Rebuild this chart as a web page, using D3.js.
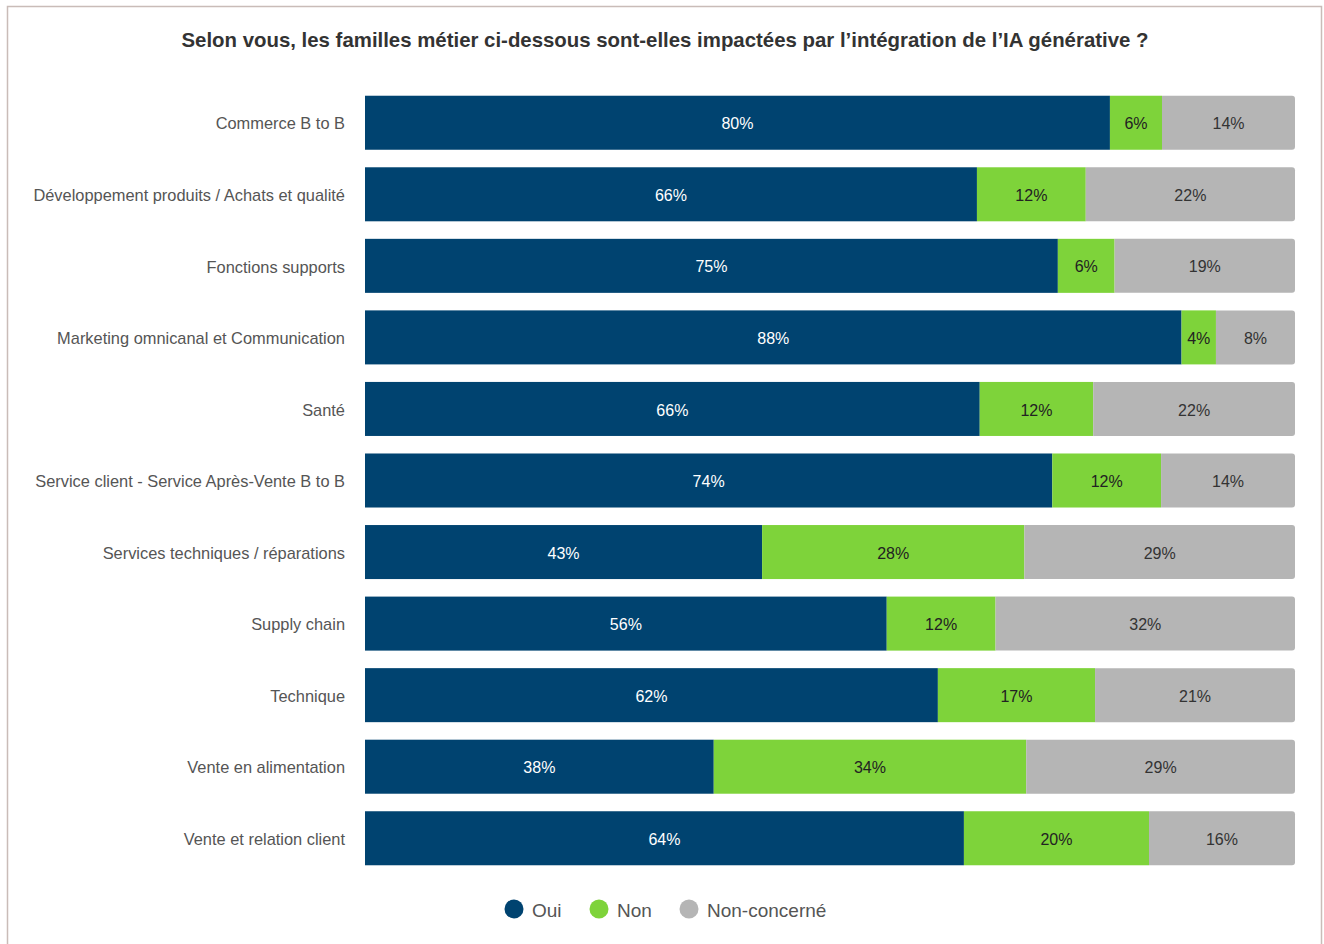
<!DOCTYPE html>
<html>
<head>
<meta charset="utf-8">
<script src="https://cdn.jsdelivr.net/npm/d3@7"></script>
<style>
  body { margin: 0; background: #fff; font-family: "Liberation Sans", Arial, sans-serif; }
</style>
</head>
<body>
<div class="chart"></div>
<script>
const categories = [
  "Commerce B to B",
  "Développement produits / Achats et qualité",
  "Fonctions supports",
  "Marketing omnicanal et Communication",
  "Santé",
  "Service client - Service Après-Vente B to B",
  "Services techniques / réparations",
  "Supply chain",
  "Technique",
  "Vente en alimentation",
  "Vente et relation client"
];
const series = ["Oui", "Non", "Non-concerné"];
const oui = [80.1, 65.8, 74.5, 87.8, 66.1, 73.9, 42.7, 56.1, 61.6, 37.5, 64.4];
const non = [5.6, 11.7, 6.1, 3.7, 12.2, 11.7, 28.2, 11.7, 16.9, 33.6, 19.9];
const nonConcerne = [14.3, 22.5, 19.4, 8.5, 21.7, 14.4, 29.1, 32.2, 21.5, 28.9, 15.7];
const ouiLabels = [80, 66, 75, 88, 66, 74, 43, 56, 62, 38, 64];
const nonLabels = [6, 12, 6, 4, 12, 12, 28, 12, 17, 34, 20];
const ncLabels = [14, 22, 19, 8, 22, 14, 29, 32, 21, 29, 16];

const colors = ["#004370", "#7ed33a", "#b5b5b5"];
const textColors = ["#ffffff", "#222222", "#333333"];

const width = 1324, height = 944;
const margin = { left: 365, right: 29, top: 87, bottom: 87 };

const svg = d3.select(".chart").append("svg")
  .attr("width", width)
  .attr("height", height);

// frame
svg.append("path")
  .attr("d", "M7.5,960 V6.5 H1321.5 V960")
  .attr("fill", "none")
  .attr("stroke", "#c9bcb8")
  .attr("stroke-width", 1.5);

svg.append("text")
  .attr("x", 665)
  .attr("y", 47)
  .attr("text-anchor", "middle")
  .attr("font-size", "20.4px")
  .attr("font-weight", "bold")
  .attr("fill", "#333")
  .text("Selon vous, les familles métier ci-dessous sont-elles impactées par l’intégration de l’IA générative ?");

const x = d3.scaleLinear().domain([0, 100]).range([margin.left, width - margin.right]);
const y = d3.scaleBand().domain(categories).range([margin.top, 874]).paddingInner(0.245).paddingOuter(0.122);

const rows = categories.map((c, i) => {
  const vals = [oui[i], non[i], nonConcerne[i]];
  const labs = [ouiLabels[i], nonLabels[i], ncLabels[i]];
  let acc = 0;
  return vals.map((v, k) => {
    const seg = { cat: c, k: k, x0: acc, x1: acc + v, label: labs[k] + "%" };
    acc += v;
    return seg;
  });
});

// category labels
svg.append("g").selectAll("text")
  .data(categories)
  .enter()
  .append("text")
  .attr("x", margin.left - 20)
  .attr("y", (d) => y(d) + y.bandwidth() / 2 + 1)
  .attr("dy", "0.35em")
  .attr("text-anchor", "end")
  .attr("font-size", "16.4px")
  .attr("fill", "#555")
  .text((d) => d);

const r = 3;
const bars = svg.append("g");
rows.forEach((segs) => {
  segs.forEach((s) => {
    const x0 = x(s.x0), x1 = x(s.x1), y0 = y(s.cat), h = y.bandwidth();
    if (s.k === 2) {
      // last segment with rounded right end
      bars.append("path")
        .attr("d", `M${x0},${y0} H${x1 - r} Q${x1},${y0} ${x1},${y0 + r} V${y0 + h - r} Q${x1},${y0 + h} ${x1 - r},${y0 + h} H${x0} Z`)
        .attr("fill", colors[s.k]);
    } else {
      bars.append("rect")
        .attr("x", x0)
        .attr("y", y0)
        .attr("width", x1 - x0)
        .attr("height", h)
        .attr("fill", colors[s.k]);
    }
    bars.append("text")
      .attr("x", (x0 + x1) / 2)
      .attr("y", y0 + h / 2 + 1)
      .attr("dy", "0.35em")
      .attr("text-anchor", "middle")
      .attr("font-size", "16px")
      .attr("fill", textColors[s.k])
      .text(s.label);
  });
});

// legend
const legendX = [514, 599, 689];
const legend = svg.append("g");
series.forEach((s, i) => {
  legend.append("circle")
    .attr("cx", legendX[i])
    .attr("cy", 909)
    .attr("r", 9.5)
    .attr("fill", colors[i]);
  legend.append("text")
    .attr("x", legendX[i] + 18)
    .attr("y", 910)
    .attr("dy", "0.35em")
    .attr("font-size", "19px")
    .attr("fill", "#555")
    .text(s);
});
</script>
</body>
</html>
